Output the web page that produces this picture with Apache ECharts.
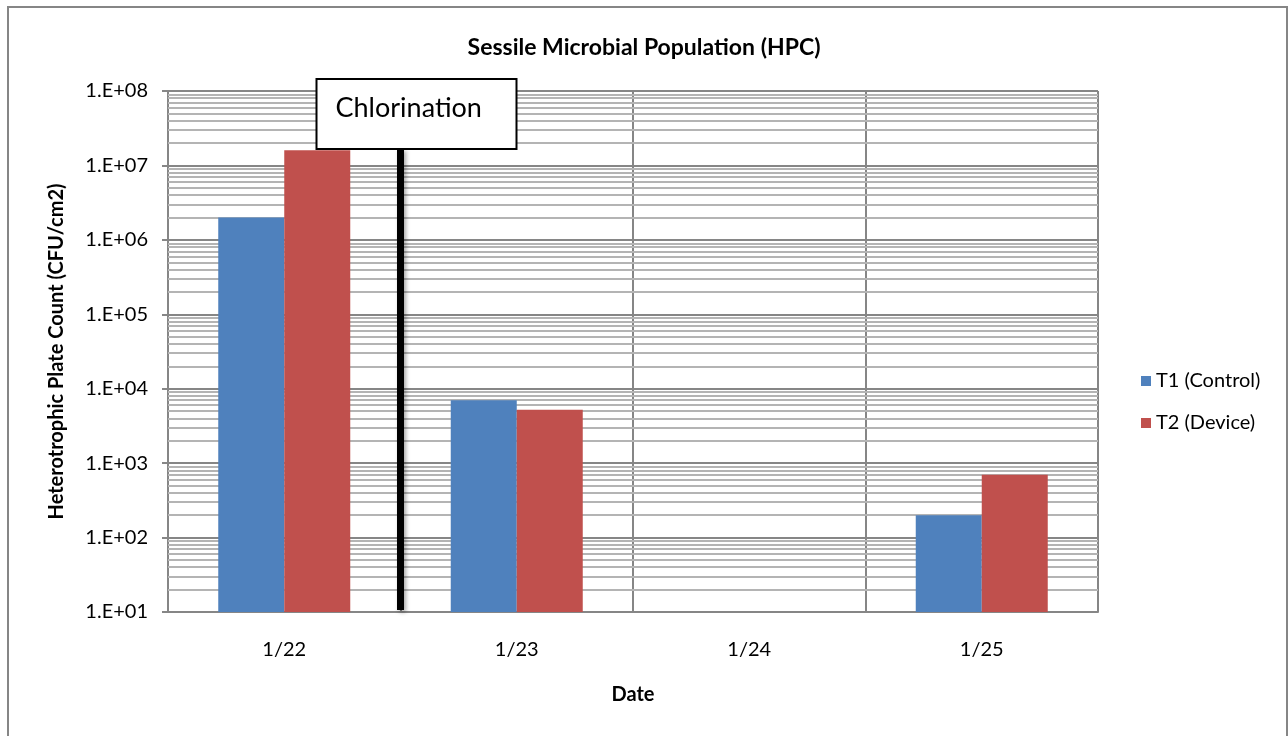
<!DOCTYPE html>
<html><head><meta charset="utf-8">
<script src="https://cdn.jsdelivr.net/npm/echarts@6/dist/echarts.min.js"></script>
<style>html,body{margin:0;padding:0;background:#fff}#c{width:1288px;height:736px}</style>
</head><body><div id="c"></div>
<script>
const categories = ['1/22', '1/23', '1/24', '1/25'];
const t1Control = [2.0e6, 7.0e3, null, 200];
const t2Device = [1.6e7, 5.2e3, null, 700];
const seriesNames = ['T1 (Control)', 'T2 (Device)'];
const annotationText = 'Chlorination';
const minorGridValues = [];
for (let e = 1; e < 8; e++) for (let m = 2; m <= 9; m++) minorGridValues.push(m * Math.pow(10, e));

const FONT = 'Lato, "Open Sans", sans-serif';
const chart = echarts.init(document.getElementById('c'), null, {renderer: 'canvas'});
const grid = {left: 168, right: 190, top: 91, bottom: 124};
const option = {
  backgroundColor: '#fff',
  animation: false,
  title: {text: 'Sessile Microbial Population (HPC)', left: 'center', top: 31,
    textStyle: {fontFamily: FONT, fontSize: 23, fontWeight: 'bold', color: '#000'}},
  legend: {data: seriesNames, orient: 'vertical', left: 1136, top: 366, itemWidth: 10, itemHeight: 10,
    itemGap: 22, icon: 'rect', textStyle: {fontFamily: FONT, fontSize: 20, color: '#000'}},
  grid: grid,
  xAxis: {type: 'category', data: categories,
    name: 'Date', nameLocation: 'middle', nameGap: 73,
    nameTextStyle: {fontFamily: FONT, fontSize: 20, fontWeight: 'bold', color: '#000'},
    axisLine: {lineStyle: {color: '#868686', width: 2}},
    axisTick: {show: false},
    axisLabel: {fontFamily: FONT, fontSize: 20, color: '#000', margin: 28},
    splitLine: {show: true, interval: 0, lineStyle: {color: '#868686', width: 2}}},
  yAxis: {type: 'log', min: 10, max: 1e8, logBase: 10,
    name: 'Heterotrophic Plate Count (CFU/cm2)', nameLocation: 'middle', nameGap: 101,
    nameTextStyle: {fontFamily: FONT, fontSize: 20, fontWeight: 'bold', color: '#000'},
    axisLine: {show: true, lineStyle: {color: '#868686', width: 2}},
    axisTick: {show: true, length: 6, lineStyle: {color: '#868686', width: 2}},
    axisLabel: {fontFamily: FONT, fontSize: 20, color: '#000', margin: 20,
      formatter: v => '1.E+' + String(Math.round(Math.log10(v))).padStart(2, '0')},
    splitLine: {show: true, lineStyle: {color: '#868686', width: 2}}},
  series: [
    {name: '_minor', type: 'bar', z: 1, data: categories.map(() => null), silent: true,
      markLine: {z: 1, silent: true, symbol: ['none', 'none'], label: {show: false},
        lineStyle: {type: 'solid', color: '#b4b4b4', width: 2},
        data: minorGridValues.map(v => ({yAxis: v}))}},
    {name: seriesNames[0], type: 'bar', z: 3, data: t1Control, barWidth: 66, barGap: '0%',
      itemStyle: {color: '#4F81BD'}},
    {name: seriesNames[1], type: 'bar', z: 3, data: t2Device, barWidth: 66, barGap: '0%',
      itemStyle: {color: '#C0504D'}}
  ]
};
chart.setOption(option);

const p0 = chart.convertToPixel({xAxisIndex: 0}, categories[0]);
const p1 = chart.convertToPixel({xAxisIndex: 0}, categories[1]);
const lineX = (p0 + p1) / 2;
const yBottom = chart.convertToPixel({yAxisIndex: 0}, 10);
const yTop = chart.convertToPixel({yAxisIndex: 0}, 1e8);
chart.setOption({
  graphic: [
    {type: 'rect', shape: {x: 8, y: 7, width: 1279, height: 740}, style: {fill: 'none', stroke: '#868686', lineWidth: 2}, z: 0, silent: true},
    {type: 'rect', shape: {x: lineX - 3.5, y: yTop + 58, width: 7, height: yBottom - yTop - 60},
      style: {fill: '#000', shadowBlur: 4, shadowColor: 'rgba(0,0,0,0.35)', shadowOffsetX: 2, shadowOffsetY: 2}, z: 10},
    {type: 'rect', shape: {x: lineX - 84, y: yTop - 12, width: 200, height: 70},
      style: {fill: '#fff', stroke: '#000', lineWidth: 2}, z: 11},
    {type: 'text', x: lineX - 65, y: yTop + 4, z: 12,
      style: {text: annotationText, font: '27px ' + FONT, fill: '#000'}}
  ]
});
</script></body></html>
